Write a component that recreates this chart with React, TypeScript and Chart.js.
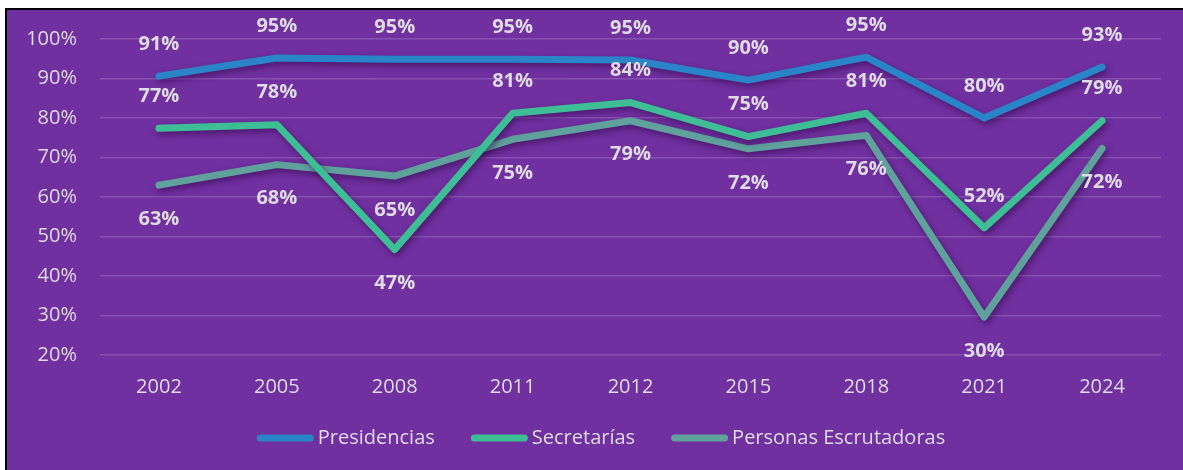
import React, { useEffect, useRef } from "react";
import { Chart, registerables } from "chart.js";

Chart.register(...registerables);

const categories = ["2002", "2005", "2008", "2011", "2012", "2015", "2018", "2021", "2024"];
const presidencias = [90.6, 95.2, 94.9, 94.9, 94.7, 89.6, 95.4, 80.0, 92.9];
const secretarias = [77.4, 78.3, 46.7, 81.2, 83.9, 75.3, 81.2, 52.2, 79.3];
const escrutadoras = [63.0, 68.2, 65.3, 74.6, 79.3, 72.2, 75.6, 29.6, 72.3];
const seriesNames = ["Presidencias", "Secretarías", "Personas Escrutadoras"];
const yTicks = [20, 30, 40, 50, 60, 70, 80, 90, 100];

// label placement per series: "a" above, "b" below
const presPlace = ["a", "a", "a", "a", "a", "a", "a", "a", "a"];
const secPlace = ["a", "a", "b", "a", "a", "a", "a", "a", "a"];
const escPlace = ["b", "b", "b", "b", "b", "b", "b", "b", "b"];

const COLORS = ["#2A84C8", "#3DBE95", "#5FA29C"];
const TEXT = "#DEDBE3";
const FONT = "'Open Sans', sans-serif";

const shadowPlugin = {
  id: "shadow",
  beforeDatasetDraw(chart: any) {
    const ctx = chart.ctx;
    ctx.save();
    ctx.shadowColor = "rgba(40,0,60,0.55)";
    ctx.shadowBlur = 6;
    ctx.shadowOffsetX = 2;
    ctx.shadowOffsetY = 3;
  },
  afterDatasetDraw(chart: any) {
    chart.ctx.restore();
  },
};

const labelPlugin = {
  id: "valueLabels",
  afterDatasetsDraw(chart: any) {
    const ctx = chart.ctx;
    const places = [presPlace, secPlace, escPlace];
    ctx.save();
    ctx.font = `bold 20px ${FONT}`;
    ctx.fillStyle = TEXT;
    ctx.textAlign = "center";
    ctx.textBaseline = "middle";
    chart.data.datasets.forEach((ds: any, di: number) => {
      const meta = chart.getDatasetMeta(di);
      meta.data.forEach((pt: any, i: number) => {
        const v = ds.data[i];
        const off = places[di][i] === "a" ? -32 : 34;
        ctx.fillText(`${Math.round(v)}%`, pt.x, pt.y + off);
      });
    });
    ctx.restore();
  },
};

const legendPlugin = {
  id: "customLegend",
  afterDraw(chart: any) {
    const ctx = chart.ctx;
    ctx.save();
    ctx.font = `20px ${FONT}`;
    const boxW = 57;
    const gapText = 4;
    const gapItem = 36;
    const widths = seriesNames.map((n) => boxW + gapText + ctx.measureText(n).width);
    const total = widths.reduce((a, b) => a + b, 0) + gapItem * (seriesNames.length - 1);
    let x = 601 - total / 2;
    const y = 438;
    seriesNames.forEach((n, i) => {
      ctx.strokeStyle = COLORS[i];
      ctx.lineWidth = 7;
      ctx.lineCap = "round";
      ctx.beginPath();
      ctx.moveTo(x + 3.5, y);
      ctx.lineTo(x + boxW - 3.5, y);
      ctx.stroke();
      ctx.fillStyle = TEXT;
      ctx.textAlign = "left";
      ctx.textBaseline = "middle";
      ctx.fillText(n, x + boxW + gapText, y);
      x += widths[i] + gapItem;
    });
    ctx.restore();
  },
};

export default function App() {
  const ref = useRef<HTMLCanvasElement | null>(null);

  useEffect(() => {
    if (!ref.current) return;
    const data = [presidencias, secretarias, escrutadoras];
    const chart = new Chart(ref.current, {
      type: "line",
      data: {
        labels: categories,
        datasets: data.map((d, i) => ({
          label: seriesNames[i],
          data: d,
          borderColor: COLORS[i],
          backgroundColor: COLORS[i],
          borderWidth: 7,
          pointRadius: 0,
          pointHoverRadius: 0,
          tension: 0,
          borderCapStyle: "round",
          borderJoinStyle: "round",
          clip: false,
        })),
      },
      options: {
        animation: false,
        responsive: false,
        maintainAspectRatio: false,
        layout: { padding: { top: 39, right: 22, left: 0, bottom: 0 } },
        plugins: {
          legend: { display: false },
          tooltip: { enabled: false },
        },
        scales: {
          x: {
            offset: true,
            grid: { display: false, drawTicks: false },
            border: { display: false },
            ticks: { color: TEXT, font: { family: FONT, size: 20 }, padding: 20 },
            afterFit: (s: any) => {
              s.height = 115;
            },
          },
          y: {
            min: 20,
            max: 100,
            afterBuildTicks: (s: any) => {
              s.ticks = yTicks.map((v) => ({ value: v }));
            },
            grid: { color: "rgba(255,255,255,0.16)", lineWidth: 1.5, drawTicks: false },
            border: { display: false },
            ticks: {
              color: TEXT,
              font: { family: FONT, size: 20 },
              padding: 23,
              callback: (v: any) => `${v}%`,
            },
            afterFit: (s: any) => {
              s.width = 100;
            },
          },
        },
      },
      plugins: [shadowPlugin, labelPlugin, legendPlugin],
    });
    return () => chart.destroy();
  }, []);

  return (
    <div style={{ position: "fixed", left: 0, top: 0, width: 1183, height: 470, background: "#fff", overflow: "hidden" }}>
      <div
        style={{
          position: "absolute",
          left: 5,
          top: 8,
          width: 1183,
          height: 470,
          background: "#7030A0",
          borderTop: "2px solid #000",
          borderLeft: "2px solid #000",
        }}
      />
      <canvas ref={ref} width={1183} height={470} style={{ position: "absolute", left: 0, top: 0, width: 1183, height: 470 }} />
    </div>
  );
}
